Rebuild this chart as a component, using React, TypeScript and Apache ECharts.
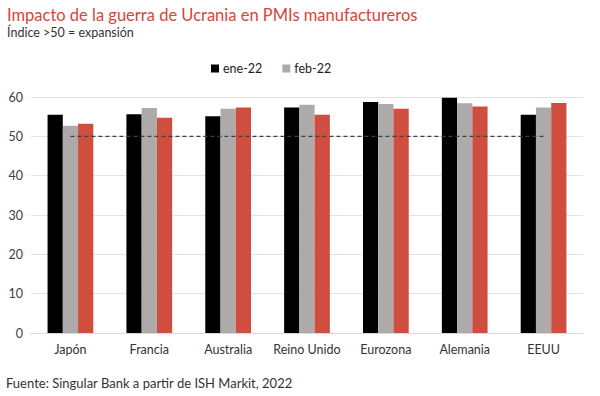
import React, { useEffect, useRef } from "react";
import * as echarts from "echarts";

const categories = ["Japón", "Francia", "Australia", "Reino Unido", "Eurozona", "Alemania", "EEUU"];
const ene22 = [55.5, 55.6, 55.1, 57.3, 58.7, 59.8, 55.5];
const feb22 = [52.7, 57.2, 57.0, 58.0, 58.2, 58.4, 57.3];
const mar22 = [53.2, 54.7, 57.3, 55.5, 57.0, 57.6, 58.5];
const threshold = [50, 50, 50, 50, 50, 50, 50];
const yTicks = [0, 10, 20, 30, 40, 50, 60];

const FONT = "Lato";

export default function App() {
  const ref = useRef<HTMLDivElement>(null);
  useEffect(() => {
    if (!ref.current) return;
    const chart = echarts.init(ref.current, undefined, { renderer: "svg" });
    chart.setOption({
      animation: false,
      backgroundColor: "#ffffff",
      textStyle: { fontFamily: FONT },
      title: {
        text: "Impacto de la guerra de Ucrania en PMIs manufactureros",
        subtext: "Índice >50 = expansión",
        left: 2,
        top: 1,
        itemGap: 3,
        textStyle: { color: "#d4473c", fontSize: 16.5, fontWeight: "normal", fontFamily: FONT },
        subtextStyle: { color: "#333333", fontSize: 12.5, fontFamily: FONT },
      },
      legend: {
        data: ["ene-22", "feb-22"],
        top: 57,
        left: 206,
        itemWidth: 8,
        itemHeight: 8,
        itemGap: 20,
        icon: "rect",
        textStyle: { color: "#222", fontSize: 12.5, fontFamily: FONT, padding: [0, 0, 0, -1] },
      },
      grid: { left: 31, right: 17, top: 97, bottom: 63 },
      xAxis: {
        type: "category",
        data: categories,
        axisLine: { lineStyle: { color: "#d9d9d9" } },
        axisTick: { show: false },
        axisLabel: { color: "#333", fontSize: 12.5, margin: 10, interval: 0, fontFamily: FONT },
      },
      yAxis: {
        type: "value",
        min: yTicks[0],
        max: yTicks[yTicks.length - 1],
        interval: 10,
        axisLine: { show: false },
        axisTick: { show: false },
        axisLabel: { color: "#404040", fontSize: 12.5, margin: 8, fontFamily: FONT },
        splitLine: { lineStyle: { color: "#e3e3e3" } },
      },
      series: [
        { name: "ene-22", type: "bar", data: ene22, barGap: "0%", barCategoryGap: "42%", itemStyle: { color: "#000000" } },
        { name: "feb-22", type: "bar", data: feb22, barGap: "0%", barCategoryGap: "42%", itemStyle: { color: "#aeaaaa" } },
        { name: "mar-22", type: "bar", data: mar22, barGap: "0%", barCategoryGap: "42%", itemStyle: { color: "#cf4e40" } },
        {
          name: "umbral",
          type: "line",
          data: threshold,
          symbol: "none",
          z: 5,
          lineStyle: { color: "#404040", width: 1.3, type: [4, 3] },
        },
      ],
      graphic: [
        {
          type: "text",
          left: 6,
          top: 376,
          style: {
            text: "Fuente: Singular Bank a partir de ISH Markit, 2022",
            fill: "#333",
            fontSize: 13,
            fontFamily: FONT,
          },
        },
      ],
    });
    return () => chart.dispose();
  }, []);
  return <div ref={ref} style={{ width: 600, height: 396, position: "absolute", left: 0, top: 0 }} />;
}
